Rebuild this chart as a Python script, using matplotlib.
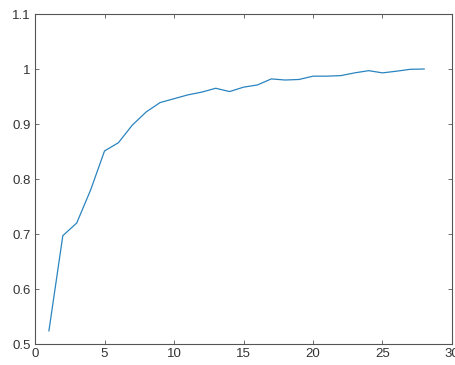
import matplotlib
matplotlib.use("Agg")
import matplotlib.pyplot as plt

# Convergence curve: value per iteration
iterations = list(range(1, 29))
values = [0.524, 0.697, 0.720, 0.780, 0.851, 0.866, 0.898, 0.922, 0.939,
          0.946, 0.953, 0.958, 0.965, 0.959, 0.967, 0.971, 0.982, 0.980,
          0.981, 0.987, 0.987, 0.988, 0.993, 0.997, 0.993, 0.996, 0.9995,
          1.000]

x_ticks = [0, 5, 10, 15, 20, 25, 30]
y_ticks = [0.5, 0.6, 0.7, 0.8, 0.9, 1.0, 1.1]
y_tick_labels = ["0.5", "0.6", "0.7", "0.8", "0.9", "1", "1.1"]

plt.rcParams["font.family"] = ["Liberation Sans", "DejaVu Sans"]

fig = plt.figure(figsize=(4.56, 3.65), dpi=100)
ax = fig.add_axes([0.0768, 0.0575, 0.9144, 0.9041])

ax.plot(iterations, values, color="#2a84bf", linewidth=0.9)

ax.set_xlim(0, 30)
ax.set_ylim(0.5, 1.1)
ax.set_xticks(x_ticks)
ax.set_yticks(y_ticks)
ax.set_yticklabels(y_tick_labels)

axis_color = "#555555"
for side in ["left", "right", "top", "bottom"]:
    ax.spines[side].set_color(axis_color)
    ax.spines[side].set_linewidth(0.8)

ax.tick_params(direction="in", length=3, width=0.6, colors=axis_color,
               labelcolor="#333333", labelsize=9.5, top=True, right=True,
               pad=3)

fig.savefig("out.png", dpi=100, facecolor="white")
